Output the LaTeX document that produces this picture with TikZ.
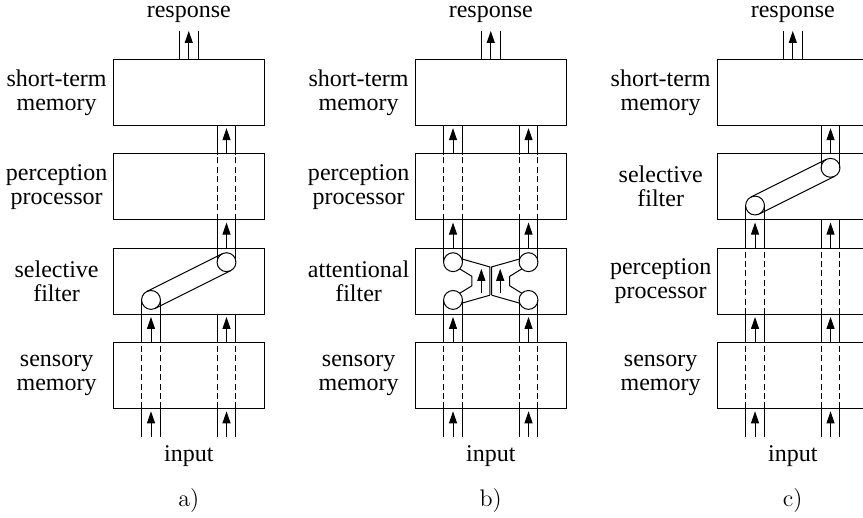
\documentclass[tikz,border=0pt]{standalone}
\usepackage{fontspec}
\newfontfamily\labelfont{Liberation Serif}
\usetikzlibrary{arrows.meta}

\begin{document}
\begin{tikzpicture}[x=4.71875pt, y=4.71875pt, line width=0.5pt,
  stage/.style={draw, inner sep=0pt, minimum width=75.5pt, minimum height=33.03pt},
  lbl/.style={align=center, font=\labelfont\fontsize{12}{12}\selectfont},
  sublbl/.style={anchor=base, font=\fontsize{12}{14}\selectfont},
  dashline/.style={dash pattern=on 3pt off 1.7pt},
  arr/.style={-{Triangle[length=6pt,width=4pt]}}]

\useasboundingbox (0,0) rectangle (91.44,54.78);
\clip (0,0) rectangle (91.44,54.78);

%% a) selective filter right after sensory memory
\begin{scope}[shift={(20,0)}]
  \node[stage] (stma) at (0,45) {};
  \node[stage] (ppa)  at (0,35) {};
  \node[stage] (sfa)  at (0,25) {};
  \node[stage] (sma)  at (0,15) {};
  \node[lbl] (stmla) at (-14,45) {short-term\\memory};
  \node[lbl] (ppla)  at (-14,35) {perception\\processor};
  \node[lbl] (sfla)  at (-14,25) {selective\\filter};
  \node[lbl] (smla)  at (-14,15) {sensory\\memory};
  \node[lbl, anchor=base] (respa) at (0,52.9) {response};
  \node[lbl, anchor=base] (inpa)  at (0,5.9) {input};
  \node[sublbl] (capa) at (0,1.1) {a)};

% response
  \draw (-1,48.5) -- (-1,51.5) (1,48.5) -- (1,51.5);
  \draw[arr] (0,48.5) -- (0,51.5);
% channels
  \foreach \x in {-5,-3,3,5} {
    \draw (\x,8.5) -- (\x,11.5) (\x,18.5) -- (\x,21.5);
    \draw[dashline] (\x,11.5) -- (\x,18.5);
  }
  \draw (-5,21.5) -- (-5,23) (-3,21.5) -- (-3,23);
  \foreach \x in {3,5} {
    \draw (\x,27) -- (\x,31.5) (\x,38.5) -- (\x,41.5);
    \draw[dashline] (\x,31.5) -- (\x,38.5);
  }
  \foreach \x in {-4,4} \foreach \y in {8.5,18.5} \draw[arr] (\x,\y) -- ++(0,2.7);
  \foreach \y in {28.5,38.5} \draw[arr] (4,\y) -- ++(0,2.7);
% filter
  \draw (-4,23) circle (1) (4,27) circle (1);
  \draw (-4,23) ++(116.565:1) -- ++(8,4);
  \draw (-4,23) ++(-63.435:1) -- ++(8,4);
\end{scope}

%% b) attentional filter
\begin{scope}[shift={(52,0)}]
  \node[stage] (stmb) at (0,45) {};
  \node[stage] (ppb)  at (0,35) {};
  \node[stage] (afb)  at (0,25) {};
  \node[stage] (smb)  at (0,15) {};
  \node[lbl] (stmlb) at (-14,45) {short-term\\memory};
  \node[lbl] (pplb)  at (-14,35) {perception\\processor};
  \node[lbl] (aflb)  at (-14,25) {attentional\\filter};
  \node[lbl] (smlb)  at (-14,15) {sensory\\memory};
  \node[lbl, anchor=base] (respb) at (0,52.9) {response};
  \node[lbl, anchor=base] (inpb)  at (0,5.9) {input};
  \node[sublbl] (capb) at (0,1.1) {b)};

% response
  \draw (-1,48.5) -- (-1,51.5) (1,48.5) -- (1,51.5);
  \draw[arr] (0,48.5) -- (0,51.5);
% channels
  \foreach \x in {-5,-3,3,5} {
    \draw (\x,8.5) -- (\x,11.5) (\x,18.5) -- (\x,23);
    \draw[dashline] (\x,11.5) -- (\x,18.5);
    \draw (\x,27) -- (\x,31.5) (\x,38.5) -- (\x,41.5);
    \draw[dashline] (\x,31.5) -- (\x,38.5);
  }
  \foreach \x in {-4,4} \foreach \y in {8.5,18.5,28.5,38.5} \draw[arr] (\x,\y) -- ++(0,2.7);
% filter
  \foreach \x in {-4,4} \foreach \y in {23,27} \draw (\x,\y) circle (1);
  \draw (-4,27) ++(20:1) -- (-0.1,26.5) -- (-0.1,23.5);
  \draw (-4,23) ++(-20:1) -- (-0.1,23.5);
  \draw (-4,27) ++(-45:1) -- (-2,25.5) -- (-2,24.5);
  \draw (-4,23) ++(45:1) -- (-2,24.5);
  \draw (4,27) ++(160:1) -- (0.1,26.5) -- (0.1,23.5);
  \draw (4,23) ++(200:1) -- (0.1,23.5);
  \draw (4,27) ++(225:1) -- (2,25.5) -- (2,24.5);
  \draw (4,23) ++(135:1) -- (2,24.5);
  \draw[arr] (-1,23.7) -- (-1,26.3);
  \draw[arr] (1,23.7) -- (1,26.3);
\end{scope}

%% c) selective filter after perception
\begin{scope}[shift={(84,0)}]
  \node[stage] (stmc) at (0,45) {};
  \node[stage] (sfc)  at (0,35) {};
  \node[stage] (ppc)  at (0,25) {};
  \node[stage] (smc)  at (0,15) {};
  \node[lbl] (stmlc) at (-14,45) {short-term\\memory};
  \node[lbl] (sflc)  at (-14,35) {selective\\filter};
  \node[lbl] (pplc)  at (-14,25) {perception\\processor};
  \node[lbl] (smlc)  at (-14,15) {sensory\\memory};
  \node[lbl, anchor=base] (respc) at (0,52.9) {response};
  \node[lbl, anchor=base] (inpc)  at (0,5.9) {input};
  \node[sublbl] (capc) at (0,1.1) {c)};

% response
  \draw (-1,48.5) -- (-1,51.5) (1,48.5) -- (1,51.5);
  \draw[arr] (0,48.5) -- (0,51.5);
% channels
  \foreach \x in {-5,-3,3,5} {
    \draw (\x,8.5) -- (\x,11.5) (\x,18.5) -- (\x,21.5) (\x,28.5) -- (\x,31.5);
    \draw[dashline] (\x,11.5) -- (\x,18.5) (\x,21.5) -- (\x,28.5);
  }
  \draw (-5,31.5) -- (-5,33) (-3,31.5) -- (-3,33);
  \draw (3,37) -- (3,41.5) (5,37) -- (5,41.5);
  \foreach \x in {-4,4} \foreach \y in {8.5,18.5,28.5} \draw[arr] (\x,\y) -- ++(0,2.7);
  \draw[arr] (4,38.5) -- ++(0,2.7);
% filter
  \draw (-4,33) circle (1) (4,37) circle (1);
  \draw (-4,33) ++(116.565:1) -- ++(8,4);
  \draw (-4,33) ++(-63.435:1) -- ++(8,4);
\end{scope}
\end{tikzpicture}
\end{document}
